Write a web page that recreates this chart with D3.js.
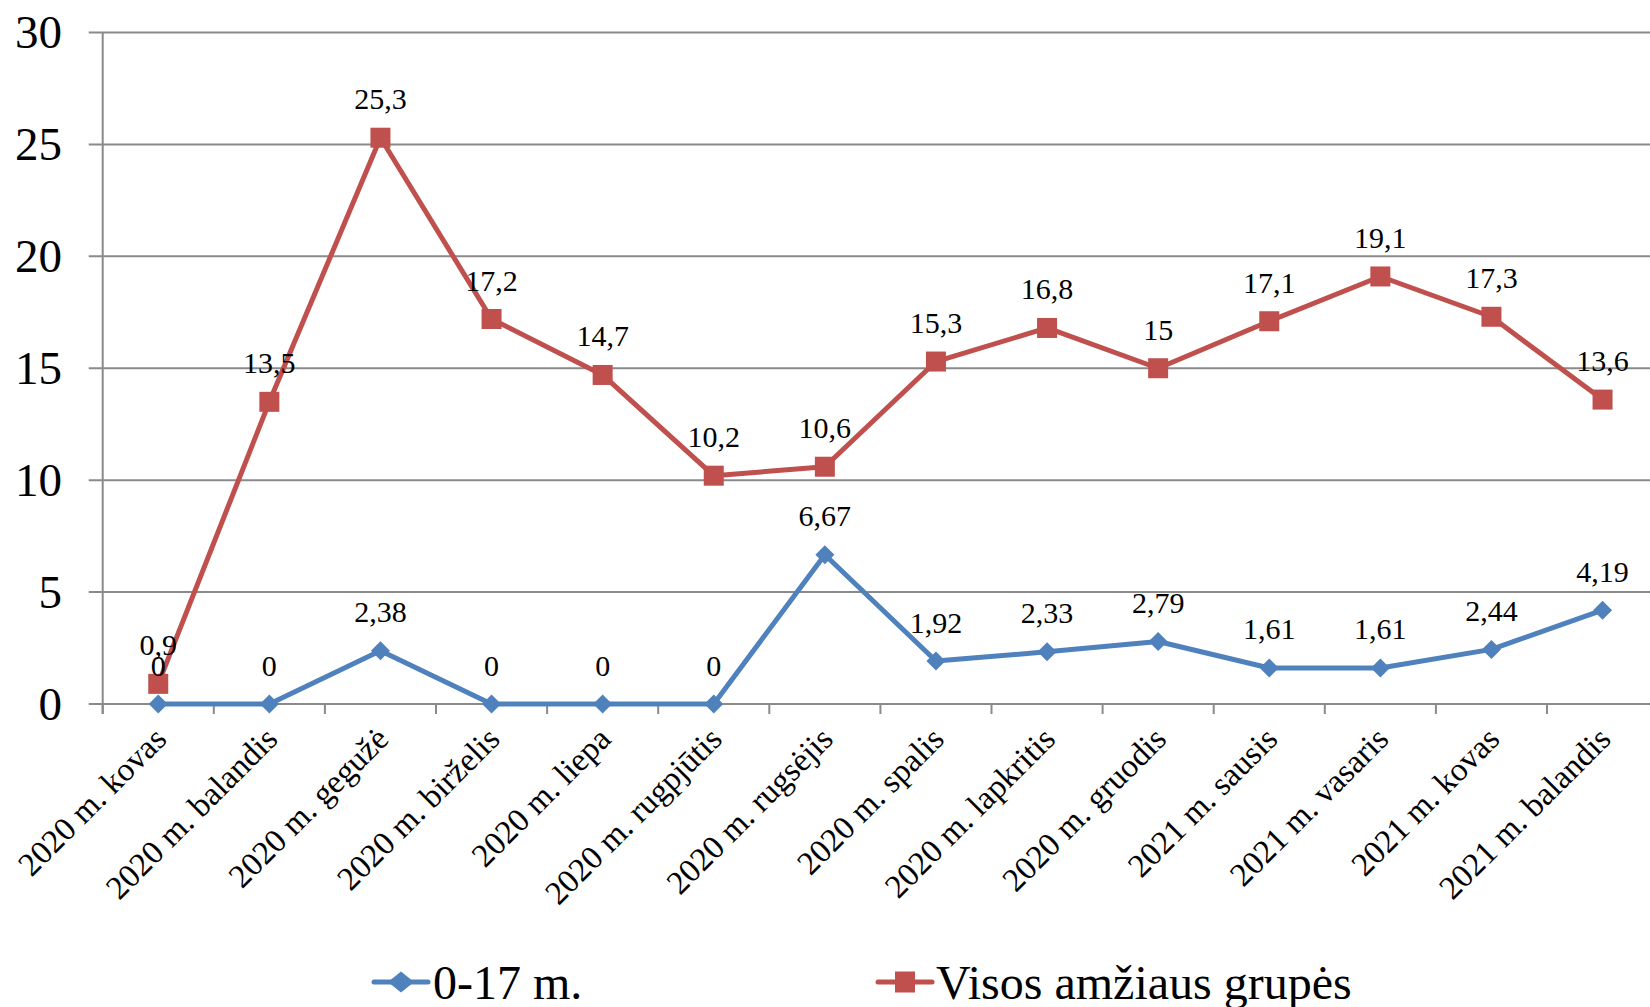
<!DOCTYPE html>
<html>
<head>
<meta charset="utf-8">
<script src="https://cdn.jsdelivr.net/npm/d3@7"></script>
<style>
  html, body { margin: 0; padding: 0; background: #fff; }
  svg { display: block; font-family: "Liberation Serif", "Times New Roman", serif; }
</style>
</head>
<body>
<svg id="chart" width="1650" height="1007"></svg>
<script>
// Monthly categories (2020 March – 2021 April)
const categories = [
  "2020 m. kovas", "2020 m. balandis", "2020 m. gegužė", "2020 m. birželis",
  "2020 m. liepa", "2020 m. rugpjūtis", "2020 m. rugsėjis", "2020 m. spalis",
  "2020 m. lapkritis", "2020 m. gruodis", "2021 m. sausis", "2021 m. vasaris",
  "2021 m. kovas", "2021 m. balandis"
];
const kids = [0, 0, 2.38, 0, 0, 0, 6.67, 1.92, 2.33, 2.79, 1.61, 1.61, 2.44, 4.19];
const allAges = [0.9, 13.5, 25.3, 17.2, 14.7, 10.2, 10.6, 15.3, 16.8, 15, 17.1, 19.1, 17.3, 13.6];
const seriesNames = ["0-17 m.", "Visos amžiaus grupės"];
const yTicks = [0, 5, 10, 15, 20, 25, 30];

const BLUE = "#4F81BD", RED = "#C0504D", GRID = "#8a8a8a";
const fmt = v => String(v).replace(".", ",");
const diamond = (w, h) => `M0,${-h}L${w},0L0,${h}L${-w},0Z`;

const svg = d3.select("#chart");
const plotLeft = 102.7, plotTop = 32.5, plotBottom = 704, bandW = 111.1;
const x = d3.scaleBand().domain(categories).range([plotLeft, plotLeft + bandW * categories.length]).padding(0);
const y = d3.scaleLinear().domain([0, 30]).range([plotBottom, plotTop]);
const cx = c => x(c) + x.bandwidth() / 2;

// Horizontal gridlines with outward tick stubs
svg.append("g").selectAll("line").data(yTicks).join("line")
  .attr("x1", plotLeft - 14).attr("x2", 1660)
  .attr("y1", d => y(d)).attr("y2", d => y(d))
  .attr("stroke", GRID).attr("stroke-width", 2);

// Y axis line
svg.append("line")
  .attr("x1", plotLeft).attr("x2", plotLeft).attr("y1", plotTop).attr("y2", plotBottom + 10)
  .attr("stroke", GRID).attr("stroke-width", 2);

// Category boundary ticks below the x axis
const bounds = d3.range(categories.length + 1).map(i => plotLeft + i * bandW);
svg.append("g").selectAll("line").data(bounds).join("line")
  .attr("x1", d => d).attr("x2", d => d).attr("y1", plotBottom).attr("y2", plotBottom + 10)
  .attr("stroke", GRID).attr("stroke-width", 2);

// Y tick labels
svg.append("g").selectAll("text").data(yTicks).join("text")
  .attr("x", 62).attr("y", d => y(d) + 15.5)
  .attr("text-anchor", "end").attr("font-size", 47).attr("fill", "#000")
  .text(d => d);

// Rotated category labels
svg.append("g").selectAll("text").data(categories).join("text")
  .attr("transform", d => `translate(${cx(d) + 10},${741}) rotate(-45)`)
  .attr("text-anchor", "end").attr("font-size", 33).attr("fill", "#000")
  .text(d => d);

// Series lines and markers
const line = d3.line().x((d, i) => cx(categories[i])).y(d => y(d));
function drawLine(data, color) {
  svg.append("path").datum(data)
    .attr("d", line).attr("fill", "none")
    .attr("stroke", color).attr("stroke-width", 5)
    .attr("stroke-linejoin", "round").attr("stroke-linecap", "round");
}
drawLine(kids, BLUE);
svg.append("g").selectAll("path").data(kids).join("path")
  .attr("d", diamond(9.5, 9.5))
  .attr("transform", (d, i) => `translate(${cx(categories[i])},${y(d)})`)
  .attr("fill", BLUE);

drawLine(allAges, RED);
svg.append("g").selectAll("rect").data(allAges).join("rect")
  .attr("x", (d, i) => cx(categories[i]) - 10).attr("y", d => y(d) - 10)
  .attr("width", 20).attr("height", 20).attr("fill", RED);

// Data labels
function drawLabels(data) {
  svg.append("g").selectAll("text").data(data).join("text")
    .attr("x", (d, i) => cx(categories[i])).attr("y", d => y(d) - 28.5)
    .attr("text-anchor", "middle").attr("font-size", 30).attr("fill", "#000")
    .text(d => fmt(d));
}
drawLabels(kids);
drawLabels(allAges);

// Legend
const legendY = 982;
const lg = svg.append("g");
lg.append("line").attr("x1", 374).attr("x2", 428).attr("y1", legendY).attr("y2", legendY)
  .attr("stroke", BLUE).attr("stroke-width", 5).attr("stroke-linecap", "round");
lg.append("path").attr("d", diamond(13, 10.5))
  .attr("transform", `translate(401,${legendY})`).attr("fill", BLUE);
lg.append("text").attr("x", 433).attr("y", 999).attr("font-size", 48).attr("fill", "#000")
  .text(seriesNames[0]);

lg.append("line").attr("x1", 878).attr("x2", 932).attr("y1", legendY).attr("y2", legendY)
  .attr("stroke", RED).attr("stroke-width", 5).attr("stroke-linecap", "round");
lg.append("rect").attr("x", 895).attr("y", legendY - 10.5).attr("width", 20).attr("height", 21)
  .attr("fill", RED);
lg.append("text").attr("x", 936).attr("y", 999).attr("font-size", 48).attr("fill", "#000")
  .text(seriesNames[1]);
</script>
</body>
</html>
